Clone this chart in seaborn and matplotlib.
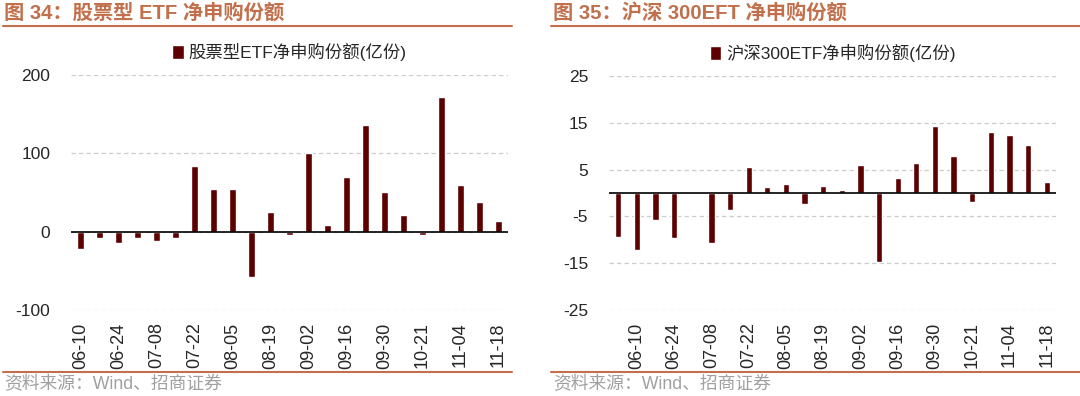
import pandas as pd
import seaborn as sns
import matplotlib.pyplot as plt
from matplotlib.lines import Line2D

sns.set_theme(style="white")
plt.rcParams['font.family'] = ['Liberation Sans', 'Noto Sans CJK SC']
plt.rcParams['axes.unicode_minus'] = False

# 股票型ETF 净申购份额 (亿份)
weeks_etf = ['06-10', '06-17', '06-24', '07-01', '07-08', '07-15', '07-22', '07-29',
             '08-05', '08-12', '08-19', '08-26', '09-02', '09-09', '09-16', '09-23',
             '09-30', '10-14', '10-21', '10-28', '11-04', '11-11', '11-18']
etf_flow = [-22, -8, -15, -8, -12, -8, 84, 54, 54, -58, 25, -4,
            100, 8, 70, 136, 51, 21, -5, 172, 60, 38, 14]

# 沪深300ETF 净申购份额 (亿份)
weeks_hs300 = ['06-03'] + weeks_etf
hs300_flow = [-9.4, -12.2, -5.7, -9.7, -0.3, -10.7, -3.7, 5.6, 1.2, 1.9, -2.3, 1.5,
              0.6, 6.0, -14.8, 3.1, 6.4, 14.3, 7.9, -1.9, 13.1, 12.5, 10.3, 2.3]

BAR = '#5c0000'
ORANGE = '#c2704c'
W, H = 1080, 396


def px_box(x0, x1, ytop, ybot):
    return [x0 / W, 1 - ybot / H, (x1 - x0) / W, (ybot - ytop) / H]


def draw(ax, weeks, values, label, yticks, ylim, first_label):
    df = pd.DataFrame({'week': weeks, 'value': values})
    sns.barplot(data=df, x='week', y='value', order=weeks, color=BAR,
                width=0.33, saturation=1, label=label, ax=ax)
    ax.set_xlim(-0.5, len(weeks) - 0.5)
    ax.set_ylim(*ylim)
    ax.set_yticks(yticks)
    ax.set_yticklabels([str(t) for t in yticks], fontsize=12.5)
    idx = list(range(first_label, len(weeks), 2))
    ax.set_xticks(idx)
    ax.set_xticklabels([weeks[i] for i in idx], rotation=90, fontsize=13)
    ax.tick_params(axis='both', length=0)
    ax.tick_params(axis='y', pad=15)
    ax.tick_params(axis='x', pad=9)
    ax.set_xlabel('')
    ax.set_ylabel('')
    for s in ax.spines.values():
        s.set_visible(False)
    for t in yticks:
        ax.axhline(t, color='#cccccc', lw=0.9, ls=(0, (3.5, 2.5)), zorder=0)
    ax.axhline(0, color='black', lw=1.2, zorder=3)
    ax.legend(loc='lower center', bbox_to_anchor=(0.5, 1.0), frameon=False,
              fontsize=12.5, handlelength=0.65, handleheight=0.9,
              handletextpad=0.3, borderaxespad=0.4)


fig = plt.figure(figsize=(10.8, 3.96), dpi=100)

ax1 = fig.add_axes(px_box(71, 508, 74.7, 310))
draw(ax1, weeks_etf, etf_flow, '股票型ETF净申购份额(亿份)',
     [-100, 0, 100, 200], (-100, 200), 0)

ax2 = fig.add_axes(px_box(609, 1056, 76, 310))
draw(ax2, weeks_hs300, hs300_flow, '沪深300ETF净申购份额(亿份)',
     [-25, -15, -5, 5, 15, 25], (-25, 25), 1)

# titles, rules and source notes
fig.text(4 / W, 1 - 13 / H, '图 34：股票型 ETF 净申购份额', color=ORANGE,
         fontsize=14.6, fontweight='bold', va='center', ha='left')
fig.text(553 / W, 1 - 13 / H, '图 35：沪深 300EFT 净申购份额', color=ORANGE,
         fontsize=14.6, fontweight='bold', va='center', ha='left')
for x0, x1 in [(3, 512), (551, 1080)]:
    for y in (26, 372):
        fig.add_artist(Line2D([x0 / W, x1 / W], [1 - y / H, 1 - y / H],
                              color=ORANGE, lw=1.5))
fig.text(4 / W, 1 - 385 / H, '资料来源：Wind、招商证券', color='#a0a0a0',
         fontsize=12.8, va='center', ha='left')
fig.text(553 / W, 1 - 385 / H, '资料来源：Wind、招商证券', color='#a0a0a0',
         fontsize=12.8, va='center', ha='left')

fig.savefig('out.png', dpi=100)
